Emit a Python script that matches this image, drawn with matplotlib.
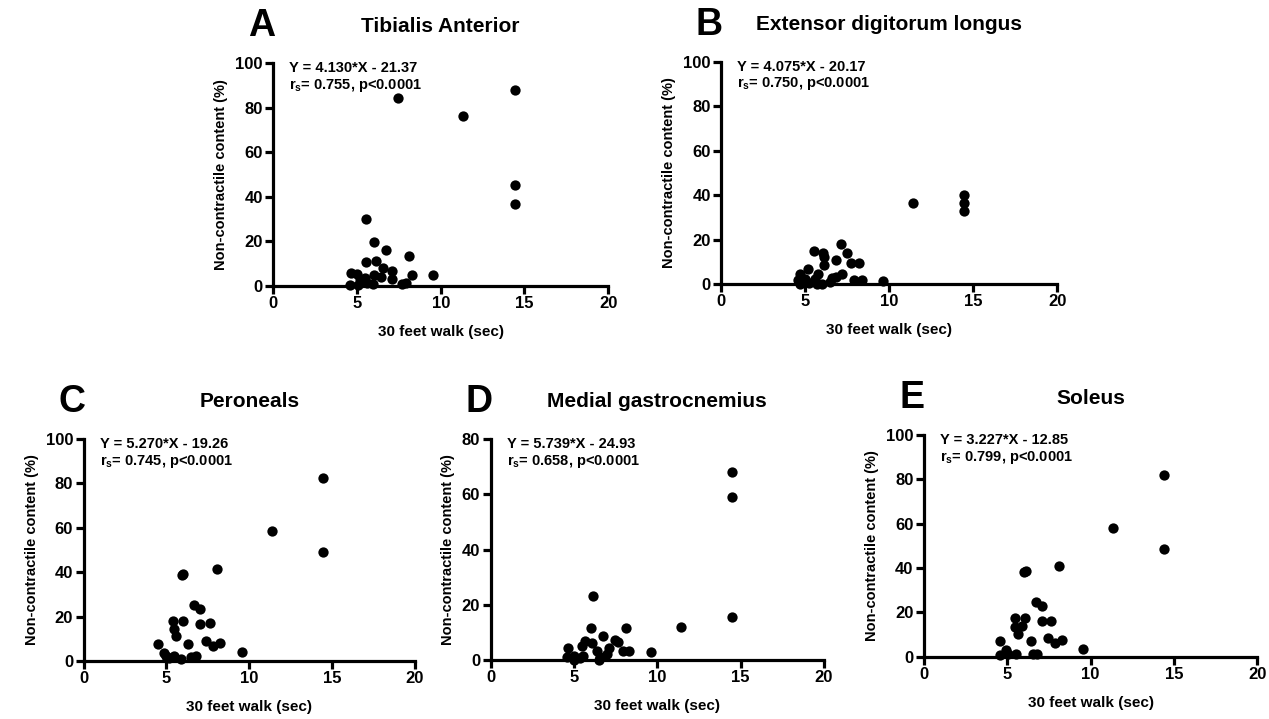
import matplotlib
matplotlib.use("Agg")
import matplotlib.pyplot as plt

plt.rcParams['font.family'] = ['Liberation Sans', 'DejaVu Sans']
plt.rcParams['font.weight'] = 'bold'
plt.rcParams['mathtext.fontset'] = 'custom'
plt.rcParams['mathtext.rm'] = 'Liberation Sans:bold'
plt.rcParams['mathtext.bf'] = 'Liberation Sans:bold'
plt.rcParams['mathtext.it'] = 'Liberation Sans:bold'

# ---- data ----
ta_x = [5.52, 6.02, 6.75, 8.13, 5.52, 6.14, 6.57, 7.11, 4.63, 5.02, 6.04, 6.44, 8.27, 7.09,
        5.48, 5.18, 4.57, 5.08, 5.58, 5.98, 7.71, 7.93, 9.56, 7.47, 11.35, 14.44, 14.44, 14.44]
ta_y = [29.9, 19.7, 16.3, 13.5, 10.6, 11.2, 7.9, 6.7, 5.7, 5.4, 4.9, 4.2, 4.9, 3.3,
        3.4, 3.0, 0.3, 0.4, 1.2, 0.8, 1.0, 1.5, 4.9, 84.4, 76.2, 87.9, 45.4, 36.8]

edl_x = [5.54, 6.07, 6.13, 6.10, 6.81, 7.13, 7.50, 7.70, 8.20, 5.18, 4.68, 5.74, 7.17, 6.81,
         6.57, 4.58, 4.98, 5.58, 4.68, 5.24, 5.68, 6.01, 6.47, 7.92, 8.36, 9.60, 11.39,
         14.45, 14.45, 14.45]
edl_y = [14.9, 13.8, 12.0, 8.6, 10.8, 17.9, 14.1, 9.3, 9.6, 6.6, 4.5, 4.4, 4.4, 3.3,
         2.7, 1.8, 2.1, 2.1, 0.1, 0.6, 0.1, 0.0, 0.8, 1.8, 1.8, 1.5, 36.5,
         40.2, 36.5, 32.7]

per_x = [6.00, 5.92, 8.04, 6.67, 7.03, 5.42, 6.00, 7.03, 7.62, 5.45, 5.56, 6.33, 4.51, 7.38,
         7.84, 8.22, 4.85, 4.95, 5.45, 5.86, 6.47, 6.77, 5.15, 9.56, 11.40, 14.45, 14.45]
per_y = [39.0, 38.6, 41.4, 25.2, 23.3, 17.9, 17.9, 16.5, 17.0, 14.4, 11.3, 7.8, 7.5, 9.2,
         6.6, 8.2, 3.7, 2.3, 2.3, 0.8, 1.9, 2.4, 1.5, 4.2, 58.6, 82.5, 49.0]

mg_x = [6.12, 6.00, 6.76, 8.10, 5.66, 6.06, 7.46, 7.66, 5.46, 4.62, 7.10, 6.40, 7.92, 8.30,
        9.60, 4.56, 5.00, 5.56, 6.56, 6.96, 5.00, 6.52, 5.36, 11.40, 14.46, 14.46, 14.46]
mg_y = [23.3, 11.5, 8.8, 11.5, 7.0, 6.0, 7.2, 6.4, 5.1, 4.5, 4.2, 3.4, 3.4, 3.4,
        3.0, 1.2, 1.4, 1.4, 1.2, 2.2, 0.0, 0.0, 0.6, 11.8, 67.9, 58.9, 15.7]

sol_x = [6.00, 6.12, 8.10, 6.74, 7.10, 5.46, 6.06, 5.46, 5.86, 5.62, 7.10, 7.64, 4.58, 6.40,
         7.42, 7.86, 8.26, 4.92, 4.56, 5.06, 5.52, 6.52, 6.80, 9.56, 11.36, 14.42, 14.42]
sol_y = [38.0, 38.6, 40.9, 24.6, 22.8, 17.3, 17.3, 13.5, 13.8, 10.2, 16.2, 16.2, 7.1, 7.2,
         8.3, 6.0, 7.5, 3.0, 0.6, 1.2, 1.2, 1.2, 1.2, 3.6, 58.0, 82.0, 48.4]

titles = ["Tibialis Anterior", "Extensor digitorum longus", "Peroneals",
          "Medial gastrocnemius", "Soleus"]
letters = ["A", "B", "C", "D", "E"]
eqs = ["Y = 4.130*X - 21.37", "Y = 4.075*X - 20.17", "Y = 5.270*X - 19.26",
       "Y = 5.739*X - 24.93", "Y = 3.227*X - 12.85"]
rs = ["0.755", "0.750", "0.745", "0.658", "0.799"]
ymaxs = [100, 100, 100, 80, 100]
xs = [ta_x, edl_x, per_x, mg_x, sol_x]
ys = [ta_y, edl_y, per_y, mg_y, sol_y]
x_ticks = [0, 5, 10, 15, 20]

W, H = 1269, 719
fig = plt.figure(figsize=(W / 100, H / 100), dpi=100)

# axes boxes in pixels: left, right, top, bottom
boxes = [(273.2, 608.2, 63, 286),
         (721.3, 1057.3, 62, 284),
         (83.5, 415.0, 439, 661),
         (490.6, 824.0, 439, 660),
         (924.0, 1257.3, 435, 656.7)]

for i in range(5):
    l, r, t, b = boxes[i]
    ax = fig.add_axes([l / W, 1 - b / H, (r - l) / W, (b - t) / H])
    ax.scatter(xs[i], ys[i], s=55, color='black', zorder=3, clip_on=False, linewidths=0)
    ax.set_xlim(0, 20)
    ax.set_ylim(0, ymaxs[i])
    ax.set_xticks(x_ticks)
    ax.set_yticks(list(range(0, ymaxs[i] + 1, 20)))
    for s in ['top', 'right']:
        ax.spines[s].set_visible(False)
    for s in ['left', 'bottom']:
        ax.spines[s].set_linewidth(2.3)
    ax.tick_params(direction='out', length=6, width=2.3, labelsize=12, pad=1.5)
    for lab in ax.get_xticklabels() + ax.get_yticklabels():
        lab.set_fontweight('bold')
    ax.set_xlabel("30 feet walk (sec)", fontsize=11, fontweight='bold', labelpad=10)
    ax.set_ylabel("Non-contractile content (%)", fontsize=10.5, fontweight='bold', labelpad=5)
    cx = (l + r) / 2
    fig.text(cx / W, 1 - (t - 37) / H, titles[i], ha='center', va='center',
             fontsize=15, fontweight='bold')
    fig.text((l - 12) / W, 1 - (t - 37) / H, letters[i], ha='center', va='center',
             fontsize=27, fontweight='bold')
    fig.text((l + 16) / W, 1 - (t + 5) / H, eqs[i], ha='left', va='center',
             fontsize=10.5, fontweight='bold')
    fig.text((l + 16) / W, 1 - (t + 22) / H, r"r$_{\mathbf{s}}$= " + rs[i] + ", p<0.0001",
             ha='left', va='center', fontsize=10.5, fontweight='bold')

fig.savefig("out.png", dpi=100)
